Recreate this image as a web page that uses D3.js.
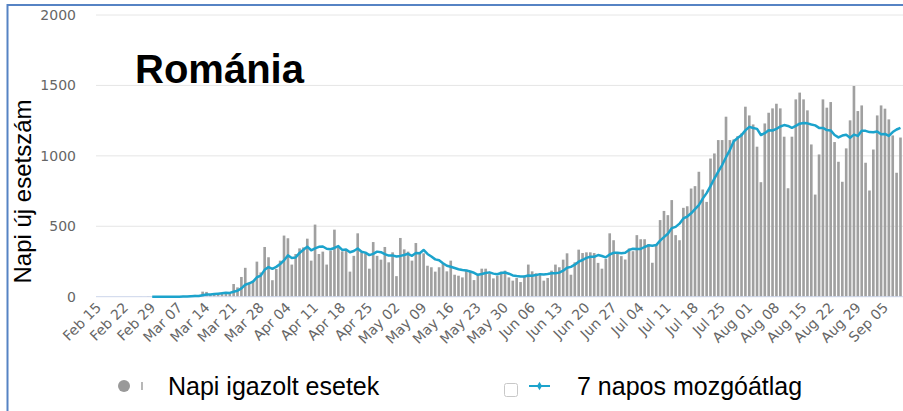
<!DOCTYPE html>
<html>
<head>
<meta charset="utf-8">
<script src="https://cdn.jsdelivr.net/npm/d3@7"></script>
<style>
body{margin:0;background:#fff;}
svg{display:block;}
</style>
</head>
<body>
<svg id="chart" width="903" height="411"></svg>
<script>
// axis runs Feb 15 .. Sep 9 2020, reported cases start Feb 23
var axisStart = new Date(2020, 1, 15);
var axisEnd = new Date(2020, 8, 10);
var dataStart = new Date(2020, 1, 23);

// daily confirmed cases, from Feb 23
var cases = [
    0,0,0,
    1,0,2,0,0,0,0,1,0,2,
    0,6,2,10,13,4,36,34,16,19,
    26,33,29,31,90,66,
    140,205,102,114,249,172,353,280,117,197,
    256,434,415,228,303,343,350,412,256,512,
    303,320,228,327,476,350,322,327,178,290,
    450,315,308,199,388,290,263,353,244,315,
    146,417,336,320,256,381,303,308,220,209,
    178,209,237,180,256,156,149,137,192,180,
    118,156,199,199,165,130,149,178,185,137,
    114,133,104,149,228,180,166,161,114,133,
    185,228,209,263,308,156,244,334,310,315,
    315,310,240,199,268,450,401,312,288,264,
    342,323,437,408,408,374,241,374,544,609,
    579,686,437,401,631,642,768,785,887,761,
    673,981,1017,1112,1112,1278,1112,1117,1140,1159,
    1349,1287,1223,1065,813,1230,1306,1337,1370,1337,
    1136,770,1136,1401,1449,1401,1323,1081,725,1010,
    1401,1342,1382,1098,958,816,1053,1252,1496,1318,
    1358,951,754,1045,1287,1358,1335,1259,1145,880,1130
];

var yTicks = [0, 500, 1000, 1500, 2000];
var labelStep = 7;
var titleText = "Románia";
var yTitle = "Napi új esetszám";
var barLegend = "Napi igazolt esetek";
var lineLegend = "7 napos mozgóátlag";

var barColor = "#a0a0a0";
var lineColor = "#1ca3cc";

var svg = d3.select('#chart');
var keyFmt = d3.timeFormat('%Y-%m-%d');
var labelFmt = d3.timeFormat('%b %d');

var days = d3.timeDay.range(axisStart, axisEnd);
var x = d3.scaleBand()
    .domain(days.map(keyFmt))
    .range([96, 96 + days.length * 3.877])
    .paddingInner(0.32)
    .paddingOuter(0.16);
var y = d3.scaleLinear().domain([0, 2000]).range([296.7, 15]);

// rows of date + value
var rows = cases.map(function(v, i){
    return {date: d3.timeDay.offset(dataStart, i), value: v};
});
// trailing 7 day mean
var avg = [];
for (var i=6; i<rows.length; i++){
    avg.push({date: rows[i].date, value: d3.mean(rows.slice(i-6, i+1), function(r){ return r.value; })});
}

// frame
svg.append('line').attr('x1', 7).attr('x2', 903).attr('y1', 5).attr('y2', 5)
    .attr('stroke', '#5683c4').attr('stroke-width', 2);
svg.append('line').attr('x1', 7.5).attr('x2', 7.5).attr('y1', 4).attr('y2', 411)
    .attr('stroke', '#5683c4').attr('stroke-width', 2);

// grid
svg.selectAll('.grid').data(yTicks.filter(function(t){ return t > 0; }))
    .enter().append('line')
    .attr('class', 'grid')
    .attr('x1', 96).attr('x2', 903)
    .attr('y1', function(d){ return y(d); }).attr('y2', function(d){ return y(d); })
    .attr('stroke', '#e6e6e6').attr('stroke-width', 1);

svg.selectAll('.ylab').data(yTicks)
    .enter().append('text')
    .attr('class', 'ylab')
    .attr('x', 76)
    .attr('y', function(d){ return y(d) + 5; })
    .attr('text-anchor', 'end')
    .style('font-family', 'DejaVu Sans')
    .style('font-size', '14px')
    .style('fill', '#666666')
    .text(function(d){ return d; });

// bars
svg.selectAll('.bar').data(rows)
    .enter().append('rect')
    .attr('class', 'bar')
    .attr('x', function(d){ return x(keyFmt(d.date)); })
    .attr('width', x.bandwidth())
    .attr('y', function(d){ return y(d.value); })
    .attr('height', function(d){ return y(0) - y(d.value); })
    .attr('fill', barColor);

// baseline
svg.append('line').attr('x1', 96).attr('x2', 903).attr('y1', y(0)).attr('y2', y(0))
    .attr('stroke', '#ccd6eb').attr('stroke-width', 1);

// moving average
var line = d3.line()
    .x(function(d){ return x(keyFmt(d.date)) + x.bandwidth()/2; })
    .y(function(d){ return y(d.value); });
svg.append('path').datum(avg)
    .attr('d', line)
    .attr('fill', 'none')
    .attr('stroke', lineColor)
    .attr('stroke-width', 2.5)
    .attr('stroke-linejoin', 'round');

// x labels every week
var labelDays = days.filter(function(d, i){ return i % labelStep == 0; });
svg.selectAll('.xlab').data(labelDays)
    .enter().append('text')
    .attr('class', 'xlab')
    .attr('text-anchor', 'end')
    .attr('transform', function(d){
        var cx = x(keyFmt(d)) + x.bandwidth()/2;
        return 'translate(' + (cx + 4) + ',' + 308.5 + ') rotate(-45)';
    })
    .style('font-family', 'DejaVu Sans')
    .style('font-size', '14px')
    .style('fill', '#666666')
    .text(function(d){ return labelFmt(d); });

// titles
svg.append('text')
    .attr('x', 135).attr('y', 83)
    .style('font-family', 'Liberation Sans')
    .style('font-weight', 'bold')
    .style('font-size', '40px')
    .style('fill', '#000')
    .text(titleText);

svg.append('text')
    .attr('transform', 'translate(31,191.5) rotate(-90)')
    .attr('text-anchor', 'middle')
    .style('font-family', 'Liberation Sans')
    .style('font-size', '24px')
    .style('fill', '#000')
    .text(yTitle);

// legend
svg.append('circle').attr('cx', 124).attr('cy', 386).attr('r', 6).attr('fill', '#999999');
svg.append('line').attr('x1', 142).attr('x2', 142).attr('y1', 382).attr('y2', 390)
    .attr('stroke', '#888888').attr('stroke-width', 1.2);
svg.append('text').attr('x', 168).attr('y', 395)
    .style('font-family', 'Liberation Sans').style('font-size', '25px').style('fill', '#000')
    .text(barLegend);

svg.append('rect').attr('x', 504.5).attr('y', 383.5).attr('width', 13).attr('height', 13).attr('rx', 2)
    .attr('fill', '#fff').attr('stroke', '#c8c8c8');
svg.append('line').attr('x1', 529).attr('x2', 550).attr('y1', 386).attr('y2', 386)
    .attr('stroke', lineColor).attr('stroke-width', 2);
svg.append('path')
    .attr('d', d3.symbol().type(d3.symbolDiamond).size(22)())
    .attr('transform', 'translate(539.5,386)')
    .attr('fill', lineColor);
svg.append('text').attr('x', 577).attr('y', 395)
    .style('font-family', 'Liberation Sans').style('font-size', '25px').style('fill', '#000')
    .text(lineLegend);
</script>
</body>
</html>
